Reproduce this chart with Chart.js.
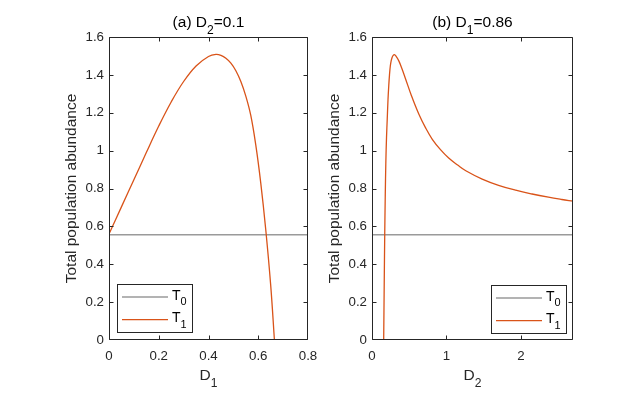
<!DOCTYPE html>
<html>
<head>
<meta charset="utf-8">
<script src="https://cdn.jsdelivr.net/npm/chart.js@4.4.1/dist/chart.umd.min.js"></script>
<style>
  html, body { margin: 0; padding: 0; background: #fff; }
  #wrap { position: relative; width: 626px; height: 398px; }
  #wrap canvas { position: absolute; top: 0; left: 0; }
</style>
</head>
<body>
<div id="wrap">
  <canvas id="panelA" width="626" height="398"></canvas>
  <canvas id="panelB" width="626" height="398"></canvas>
</div>
<script>
// values
const t0Level = 0.556;

// (a) D2 = 0.1, x is D1
const d1Values = [0, 0.05, 0.1, 0.15, 0.2, 0.25, 0.3, 0.35, 0.4, 0.43, 0.45, 0.47, 0.49, 0.51, 0.53, 0.55, 0.57, 0.59, 0.61, 0.63, 0.65, 0.665];
const t1ByD1 =   [0.56, 0.703, 0.846, 0.99, 1.13, 1.257, 1.365, 1.447, 1.497, 1.508, 1.503, 1.488, 1.462, 1.422, 1.365, 1.288, 1.186, 1.03, 0.83, 0.585, 0.29, 0];

// (b) D1 = 0.86, x is D2
const d2Values = [0.157, 0.164, 0.171, 0.178, 0.186, 0.195, 0.205, 0.215, 0.225, 0.235, 0.246, 0.258, 0.27, 0.285, 0.3, 0.32, 0.36, 0.4, 0.45, 0.53, 0.63, 0.72, 0.81, 0.92, 1.03, 1.15, 1.26, 1.48, 1.7, 1.93, 2.15, 2.37, 2.55, 2.7];
const t1ByD2 =   [0, 0.29, 0.556, 0.76, 0.94, 1.07, 1.17, 1.27, 1.342, 1.4, 1.447, 1.475, 1.492, 1.503, 1.507, 1.5, 1.474, 1.435, 1.38, 1.29, 1.192, 1.12, 1.06, 1.005, 0.961, 0.924, 0.894, 0.85, 0.817, 0.791, 0.771, 0.754, 0.742, 0.733];

const xTicksA = [0, 0.2, 0.4, 0.6, 0.8];
const xTicksB = [0, 1, 2];
const yTicks = [0, 0.2, 0.4, 0.6, 0.8, 1, 1.2, 1.4, 1.6];
const seriesNames = ['T_0', 'T_1'];

const FONT = '"Liberation Sans", Arial, Helvetica, sans-serif';
const INK = '#262626';
const Y_W = 40, X_H = 30;

Chart.defaults.font.family = FONT;

// split "D_2=0.1" into normal / subscript runs
function runs(str) {
  const out = [];
  let buf = '';
  for (let i = 0; i < str.length; i++) {
    if (str[i] === '_') {
      if (buf) out.push([buf, false]);
      buf = '';
      out.push([str[i + 1], true]);
      i++;
    } else buf += str[i];
  }
  if (buf) out.push([buf, false]);
  return out;
}

function drawRich(ctx, str, x, y, size, align) {
  const parts = runs(str);
  const sub = size * 0.78;
  let w = 0;
  parts.forEach(p => {
    ctx.font = (p[1] ? sub : size) + 'px ' + FONT;
    w += ctx.measureText(p[0]).width;
  });
  let cx = align === 'center' ? x - w / 2 : align === 'right' ? x - w : x;
  ctx.textAlign = 'left';
  ctx.textBaseline = 'alphabetic';
  parts.forEach(p => {
    ctx.font = (p[1] ? sub : size) + 'px ' + FONT;
    ctx.fillText(p[0], cx, p[1] ? y + size * 0.42 : y);
    cx += ctx.measureText(p[0]).width;
  });
}

const clamp = (v, lo, hi) => Math.min(hi, Math.max(lo, v));

const framePlugin = {
  id: 'frame',
  afterDraw(chart, args, opts) {
    const ctx = chart.ctx;
    const a = chart.chartArea;
    const xs = chart.scales.x, ys = chart.scales.y;
    const L = Math.round(a.left) + 0.5, R = Math.round(a.right) - 0.5;
    const T = Math.round(a.top) + 0.5, B = Math.round(a.bottom) - 0.5;
    ctx.save();
    ctx.strokeStyle = INK;
    ctx.lineWidth = 1;
    ctx.beginPath();
    ctx.rect(L, T, R - L, B - T);
    xs.ticks.forEach(t => {
      const px = clamp(Math.round(xs.getPixelForValue(t.value)) + 0.5, L, R);
      ctx.moveTo(px, B); ctx.lineTo(px, B - 4);
      ctx.moveTo(px, T); ctx.lineTo(px, T + 4);
    });
    ys.ticks.forEach(t => {
      const py = clamp(Math.round(ys.getPixelForValue(t.value)) + 0.5, T, B);
      ctx.moveTo(L, py); ctx.lineTo(L + 4, py);
      ctx.moveTo(R, py); ctx.lineTo(R - 4, py);
    });
    ctx.stroke();

    const midX = (a.left + a.right) / 2;
    ctx.fillStyle = '#000';
    drawRich(ctx, opts.title, midX, 27, 15.5, 'center');
    ctx.fillStyle = INK;
    drawRich(ctx, opts.xLabel, midX, 380, 15.5, 'center');

    ctx.save();
    ctx.translate(a.left - 37, (a.top + a.bottom) / 2);
    ctx.rotate(-Math.PI / 2);
    ctx.font = '15.5px ' + FONT;
    ctx.textAlign = 'center';
    ctx.textBaseline = 'middle';
    ctx.fillText(opts.yLabel, 0, 0);
    ctx.restore();

    // legend box with subscripted entries
    const lw = 75, lh = 48;
    const x0 = opts.legend === 'se' ? Math.round(a.right) - opts.legendGap - lw : Math.round(a.left) + opts.legendGap;
    const y0 = Math.round(a.bottom) - opts.legendGap - lh;
    ctx.fillStyle = '#fff';
    ctx.fillRect(x0, y0, lw, lh);
    ctx.strokeStyle = INK;
    ctx.strokeRect(x0 + 0.5, y0 + 0.5, lw, lh);
    chart.data.datasets.forEach((ds, i) => {
      const ly = y0 + 13 + i * 22.7;
      ctx.strokeStyle = ds.borderColor;
      ctx.lineWidth = ds.borderWidth;
      ctx.beginPath();
      ctx.moveTo(x0 + 5, ly);
      ctx.lineTo(x0 + 51, ly);
      ctx.stroke();
      ctx.fillStyle = '#000';
      drawRich(ctx, ds.label, x0 + 55, ly + 2.5, 14, 'left');
    });
    ctx.restore();
  }
};

function makePanel(id, cfg) {
  const area = cfg.area;
  const canvas = document.getElementById(id);
  const zeroPad = s => { s.paddingLeft = 0; s.paddingRight = 0; s.paddingTop = 0; s.paddingBottom = 0; };
  const tickStyle = { color: INK, font: { size: 13.3 }, autoSkip: false, maxRotation: 0, callback: v => String(v) };
  return new Chart(canvas, {
    type: 'scatter',
    data: {
      datasets: [
        {
          label: seriesNames[0],
          data: [{ x: cfg.xMin, y: t0Level }, { x: cfg.xMax, y: t0Level }],
          borderColor: '#9a9a9a', borderWidth: 1.5,
          showLine: true, pointRadius: 0, order: 2
        },
        {
          label: seriesNames[1],
          data: cfg.xs.map((x, i) => ({ x, y: cfg.ys[i] })),
          borderColor: '#d95319', borderWidth: 1.3,
          showLine: true, pointRadius: 0, tension: 0.4, order: 1
        }
      ]
    },
    options: {
      responsive: false,
      animation: false,
      events: [],
      layout: {
        padding: {
          left: area.left - Y_W,
          right: canvas.width - area.right,
          top: area.top,
          bottom: canvas.height - area.bottom - X_H
        }
      },
      scales: {
        x: {
          type: 'linear', min: cfg.xMin, max: cfg.xMax,
          afterBuildTicks: s => { s.ticks = cfg.xTicks.map(v => ({ value: v })); },
          afterFit: s => { s.height = X_H; zeroPad(s); },
          ticks: { ...tickStyle, padding: 8 },
          grid: { display: false, drawTicks: false },
          border: { display: false }
        },
        y: {
          type: 'linear', min: 0, max: 1.6,
          afterBuildTicks: s => { s.ticks = yTicks.map(v => ({ value: v })); },
          afterFit: s => { s.width = Y_W; zeroPad(s); },
          ticks: { ...tickStyle, padding: 5 },
          grid: { display: false, drawTicks: false },
          border: { display: false }
        }
      },
      plugins: {
        legend: { display: false },
        tooltip: { enabled: false },
        frame: {
          title: cfg.title, xLabel: cfg.xLabel, yLabel: 'Total population abundance',
          legend: cfg.legend, legendGap: cfg.legendGap
        }
      }
    },
    plugins: [framePlugin]
  });
}

makePanel('panelA', {
  area: { left: 109, top: 37, right: 308, bottom: 340 },
  xMin: 0, xMax: 0.8, xTicks: xTicksA,
  xs: d1Values, ys: t1ByD1,
  title: '(a) D_2=0.1', xLabel: 'D_1',
  legend: 'sw', legendGap: 8
});

makePanel('panelB', {
  area: { left: 372, top: 37, right: 573, bottom: 340 },
  xMin: 0, xMax: 2.7, xTicks: xTicksB,
  xs: d2Values, ys: t1ByD2,
  title: '(b) D_1=0.86', xLabel: 'D_2',
  legend: 'se', legendGap: 7
});
</script>
</body>
</html>
